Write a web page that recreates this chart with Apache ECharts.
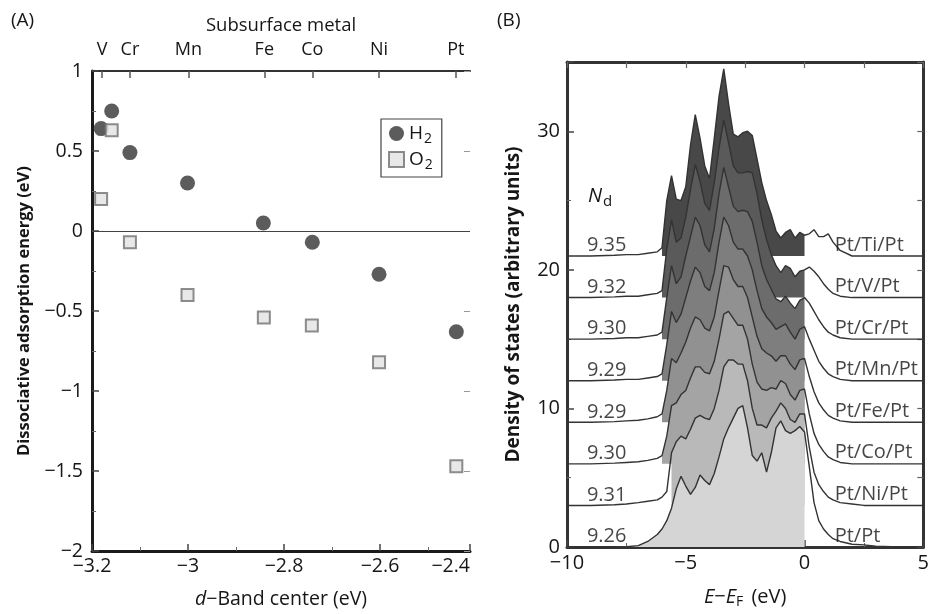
<!DOCTYPE html>
<html><head><meta charset="utf-8">
<script src="https://cdn.jsdelivr.net/npm/echarts@6/dist/echarts.min.js"></script>
<style>html,body{margin:0;padding:0;background:#fff}#c{width:932px;height:614px}</style>
</head><body><div id="c"></div>
<script>
// ---------- Panel A data ----------
const metals = ['V', 'Cr', 'Mn', 'Fe', 'Co', 'Ni', 'Pt'];
const metalBandCenter = [-3.179, -3.121, -2.999, -2.841, -2.741, -2.602, -2.442];
const h2X = [-3.181, -3.159, -3.121, -3.001, -2.843, -2.741, -2.602, -2.441];
const h2Y = [0.64, 0.75, 0.49, 0.30, 0.05, -0.07, -0.27, -0.63];
const o2X = [-3.181, -3.159, -3.121, -3.001, -2.842, -2.742, -2.602, -2.441];
const o2Y = [0.20, 0.63, -0.07, -0.40, -0.54, -0.59, -0.82, -1.47];

// ---------- Panel B data ----------
const energy = [-10,-9,-8,-7.5,-7,-6.6,-6.2,-6.0,-5.8,-5.6,-5.4,-5.2,-5.0,-4.8,-4.6,-4.4,-4.2,-4.0,-3.8,-3.6,-3.4,-3.2,-3.0,-2.8,-2.6,-2.4,-2.2,-2.0,-1.8,-1.6,-1.4,-1.2,-1.0,-0.8,-0.6,-0.4,-0.2,0,0.2,0.4,0.6,0.8,1.0,1.2,1.5,2.0,2.5,3.0,4.0,5.0];
const systems = ['Pt/Ti/Pt', 'Pt/V/Pt', 'Pt/Cr/Pt', 'Pt/Mn/Pt', 'Pt/Fe/Pt', 'Pt/Co/Pt', 'Pt/Ni/Pt', 'Pt/Pt'];
const ndValues = ['9.35', '9.32', '9.30', '9.29', '9.29', '9.30', '9.31', '9.26'];
const offsets = [21, 18, 15, 12, 9, 6, 3, 0];
const fillStart = [-6, -6, -6, -6, -6, -6, -5.6, -10];
const dosTi = [0,0,0.05,0.1,0.1,0.2,0.3,0.6,4.0,5.8,4.1,4.0,5.0,8.0,10.2,8.5,6.5,5.6,8.5,11.5,13.5,11.0,8.8,8.6,8.9,9.0,8.7,7.0,5.3,4.0,3.0,1.8,1.3,1.7,1.9,1.3,1.7,1.5,1.6,1.9,1.4,1.4,1.6,1.0,0.4,0,0,0,0,0];
const dosV  = [0,0,0.05,0.1,0.1,0.2,0.3,0.5,3.5,5.6,4.0,4.3,5.8,7.8,9.6,8.4,6.8,6.3,8.3,10.8,12.8,11.2,9.5,9.0,9.0,9.1,9.0,7.5,5.6,4.2,3.1,2.3,1.8,2.3,2.1,1.5,1.9,2.0,2.2,1.9,1.5,1.0,0.6,0.3,0.1,0,0,0,0,0];
const dosCr = [0,0,0.05,0.1,0.1,0.2,0.3,0.5,3.0,5.3,4.0,4.5,6.0,7.4,8.8,8.2,6.8,6.3,8.0,10.5,12.4,11.0,9.6,9.2,9.3,9.2,8.5,7.0,5.3,4.3,3.6,2.9,2.7,3.1,2.6,2.2,2.8,3.0,2.6,2.0,1.4,0.9,0.5,0.3,0.1,0,0,0,0,0];
const dosMn = [0,0,0.05,0.1,0.1,0.2,0.3,0.5,2.6,5.0,4.2,4.8,6.0,7.2,8.2,7.8,6.8,6.5,7.8,10.0,11.8,11.2,10.0,9.5,9.5,9.0,8.0,6.5,5.2,4.6,4.2,3.7,3.9,4.1,3.5,3.0,3.7,3.9,3.0,2.2,1.4,0.9,0.5,0.3,0.1,0,0,0,0,0];
const dosFe = [0,0,0.05,0.1,0.15,0.25,0.4,0.6,2.3,4.6,4.3,5.0,5.8,6.8,7.6,7.4,6.8,6.6,7.6,9.5,11.3,11.2,10.3,9.8,9.8,9.0,7.6,6.2,5.3,5.0,4.8,4.4,4.8,4.8,4.2,3.8,4.5,4.6,3.3,2.2,1.4,0.9,0.5,0.3,0.1,0,0,0,0,0];
const dosCo = [0,0,0.05,0.1,0.15,0.25,0.4,0.6,2.0,4.2,4.4,5.0,5.3,6.2,7.0,7.0,6.6,6.5,7.4,9.0,10.8,11.0,10.5,10.0,10.0,9.0,7.2,5.9,5.4,5.3,5.5,5.4,6.0,5.8,5.0,4.6,5.3,5.4,3.6,2.2,1.4,0.9,0.5,0.3,0.1,0,0,0,0,0];
const dosNi = [0,0,0.05,0.1,0.2,0.3,0.4,0.6,1.0,3.8,4.6,5.0,4.8,5.5,6.3,6.5,6.3,6.2,7.0,8.3,10.0,10.5,10.5,10.2,10.2,9.0,7.0,5.8,5.8,5.6,6.3,6.8,7.4,7.0,6.2,6.0,6.6,6.6,4.2,2.4,1.5,1.0,0.6,0.4,0.2,0.1,0,0,0,0];
const dosPt = [0,0,0,0.02,0.1,0.4,0.9,1.3,1.9,2.8,4.2,5.1,4.4,3.8,4.3,5.2,4.8,4.5,5.3,6.5,7.8,8.6,9.3,10.0,10.2,8.6,6.6,6.2,6.8,5.4,6.8,8.6,9.1,8.4,8.2,8.4,8.7,8.3,5.8,3.2,1.9,1.3,0.9,0.6,0.4,0.2,0.15,0.05,0,0];
const dosAll = [dosTi, dosV, dosCr, dosMn, dosFe, dosCo, dosNi, dosPt];

// ---------- build ----------
const FONT = 'Open Sans';
const INK = '#161616';
const minus = v => String(v).replace('-', '\u2212');
const fills = ['#484848', '#5a5a5a', '#6c6c6c', '#7e7e7e', '#919191', '#a4a4a4', '#b9b9b9', '#d5d5d5'];
const series = [];

series.push({
  type: 'scatter', name: 'H2', xAxisIndex: 0, yAxisIndex: 0,
  data: h2X.map((x, i) => [x, h2Y[i]]), symbol: 'circle', symbolSize: 15,
  itemStyle: { color: '#333' }, z: 4,
  markLine: { silent: true, symbol: ['none', 'none'], label: { show: false },
    lineStyle: { color: '#444', width: 1.2, type: 'solid' }, data: [{ yAxis: 0 }] }
});
series.push({
  type: 'scatter', name: 'O2', xAxisIndex: 0, yAxisIndex: 0,
  data: o2X.map((x, i) => [x, o2Y[i]]), symbol: 'rect', symbolSize: 12,
  itemStyle: { color: '#e2e2e2', borderColor: '#707070', borderWidth: 2 }, z: 5
});

dosAll.forEach((d, k) => {
  const fillData = [];
  energy.forEach((e, i) => { if (e >= fillStart[k] && e <= 0) fillData.push([e, offsets[k] + d[i]]); });
  series.push({
    type: 'line', xAxisIndex: 2, yAxisIndex: 2, data: fillData, symbol: 'none',
    lineStyle: { width: 0 }, areaStyle: { color: fills[k], opacity: 1, origin: offsets[k] },
    z: 2 + k * 0.01, silent: true, animation: false
  });
});
dosAll.forEach((d, k) => {
  series.push({
    type: 'line', xAxisIndex: 2, yAxisIndex: 2, symbol: 'none',
    data: energy.map((e, i) => [e, offsets[k] + d[i]]),
    lineStyle: { color: '#333', width: 1.4 }, z: 3, silent: true, animation: false
  });
});
series.push({
  type: 'scatter', xAxisIndex: 2, yAxisIndex: 2, symbolSize: 1, itemStyle: { color: 'transparent' },
  data: offsets.map((o, k) => ({ value: [-8.33, o + 0.75], label: { formatter: ndValues[k] } })),
  label: { show: true, position: 'inside', fontFamily: FONT, fontSize: 20, color: INK }, z: 6
});
series.push({
  type: 'scatter', xAxisIndex: 2, yAxisIndex: 2, symbolSize: 1, itemStyle: { color: 'transparent' },
  data: offsets.map((o, k) => ({ value: [1.25, o + 0.8], label: { formatter: systems[k] } })),
  label: { show: true, position: 'right', distance: 0, fontFamily: FONT, fontSize: 20, color: INK }, z: 6
});

const tickStyle = { inside: true, length: 7, lineStyle: { color: '#444', width: 1.5 } };
const minorStyle = { show: true, splitNumber: 2, length: 4, lineStyle: { color: '#666', width: 1 } };
const lblA = { fontFamily: FONT, fontSize: 19.5, color: INK };
const lblB = { fontFamily: FONT, fontSize: 20, color: INK };

const option = {
  animation: false,
  textStyle: { fontFamily: FONT },
  grid: [
    { left: 92, top: 71, width: 378, height: 483 },
    { left: 567, top: 62, width: 360, height: 488 }
  ],
  legend: {
    left: 381, top: 119, orient: 'vertical', borderColor: '#444', borderWidth: 1.2,
    padding: [5, 9, 5, 7], itemGap: 4, itemWidth: 15, itemHeight: 15,
    data: [{ name: 'H2', icon: 'circle' }, { name: 'O2', icon: 'rect' }],
    formatter: n => `{b|${n[0]}}{s|${n[1]}}`,
    textStyle: { rich: { b: { fontFamily: FONT, fontSize: 19, color: INK }, s: { fontFamily: FONT, fontSize: 14, color: INK, padding: [11, 0, 0, 1] } } }
  },
  xAxis: [
    { gridIndex: 0, type: 'value', min: -3.2, max: -2.4125, interval: 0.2, position: 'bottom',
      axisLine: { onZero: false, lineStyle: { color: '#1a1a1a', width: 3 } },
      axisTick: tickStyle, minorTick: minorStyle, splitLine: { show: false },
      axisLabel: Object.assign({}, lblA, { margin: 5, alignMaxLabel: 'right', formatter: v => minus(Math.round(v * 10) / 10) }),
      name: '{i|d}\u2212Band center (eV)', nameLocation: 'middle', nameGap: 38,
      nameTextStyle: { fontFamily: FONT, fontSize: 19.5, color: INK, rich: { i: { fontFamily: FONT, fontStyle: 'italic', fontSize: 19.5, color: INK } } } },
    { gridIndex: 0, type: 'value', min: -3.2, max: -2.4125, position: 'top',
      axisLine: { onZero: false, lineStyle: { color: '#333', width: 2 } },
      axisTick: { inside: true, length: 7, customValues: metalBandCenter, lineStyle: { color: '#555', width: 1.5 } },
      splitLine: { show: false },
      axisLabel: { fontFamily: FONT, fontSize: 18, color: INK, margin: 12, customValues: metalBandCenter,
        formatter: v => { let b = 0; metalBandCenter.forEach((m, i) => { if (Math.abs(m - v) < Math.abs(metalBandCenter[b] - v)) b = i; }); return metals[b]; } },
      name: 'Subsurface metal', nameLocation: 'middle', nameGap: 36,
      nameTextStyle: { fontFamily: FONT, fontSize: 18.5, color: INK } },
    { gridIndex: 1, type: 'value', min: -10, max: 5, interval: 5, position: 'bottom',
      axisLine: { onZero: false, lineStyle: { color: '#333', width: 3 } },
      axisTick: tickStyle, minorTick: minorStyle, splitLine: { show: false },
      axisLabel: Object.assign({}, lblB, { margin: 6, formatter: v => minus(v) }),
      name: '{i|E}\u2212{i|E}{s|F} (eV)', nameLocation: 'middle', nameGap: 38,
      nameTextStyle: { fontFamily: FONT, fontSize: 20, color: INK,
        rich: { i: { fontFamily: FONT, fontStyle: 'italic', fontSize: 20, color: INK },
                s: { fontFamily: FONT, fontSize: 14, color: INK, padding: [10, 3, 0, 0] } } } },
    { gridIndex: 1, type: 'value', min: -10, max: 5, interval: 2.5, position: 'top',
      axisLine: { onZero: false, lineStyle: { color: '#333', width: 3 } },
      axisTick: { inside: true, length: 6, lineStyle: { color: '#666', width: 1.2 } },
      axisLabel: { show: false }, splitLine: { show: false } }
  ],
  yAxis: [
    { gridIndex: 0, type: 'value', min: -2, max: 1, interval: 0.5,
      axisLine: { onZero: false, lineStyle: { color: '#1a1a1a', width: 3 } },
      axisTick: tickStyle, minorTick: minorStyle, splitLine: { show: false },
      axisLabel: Object.assign({}, lblA, { margin: 9, formatter: v => minus(v) }),
      name: 'Dissociative adsorption energy (eV)', nameLocation: 'middle', nameGap: 59,
      nameTextStyle: { fontFamily: FONT, fontSize: 16.5, fontWeight: 'bold', color: INK } },
    { gridIndex: 0, type: 'value', min: -2, max: 1, interval: 0.5, position: 'right',
      axisLine: { show: false }, axisTick: { inside: true, length: 6, lineStyle: { color: '#999' } },
      axisLabel: { show: false }, splitLine: { show: false } },
    { gridIndex: 1, type: 'value', min: 0, max: 35, interval: 10,
      axisLine: { onZero: false, lineStyle: { color: '#333', width: 3 } },
      axisTick: tickStyle, minorTick: minorStyle, splitLine: { show: false },
      axisLabel: Object.assign({}, lblB, { margin: 7, showMaxLabel: false }),
      name: 'Density of states (arbitrary units)', nameLocation: 'middle', nameGap: 44,
      nameTextStyle: { fontFamily: FONT, fontSize: 19, fontWeight: 'bold', color: INK } },
    { gridIndex: 1, type: 'value', min: 0, max: 35, interval: 5, position: 'right',
      axisLine: { onZero: false, lineStyle: { color: '#333', width: 3 } },
      axisTick: { inside: true, length: 6, lineStyle: { color: '#666', width: 1.2 } },
      axisLabel: { show: false }, splitLine: { show: false } }
  ],
  graphic: [
    { type: 'text', left: 11, top: 11, style: { text: '(A)', fontFamily: FONT, fontSize: 19, fill: INK } },
    { type: 'text', left: 497, top: 11, style: { text: '(B)', fontFamily: FONT, fontSize: 19, fill: INK } },
    { type: 'text', left: 588, top: 186, style: { text: '{i|N}{s|d}', rich: {
        i: { fontFamily: FONT, fontStyle: 'italic', fontSize: 20, fill: INK, color: INK },
        s: { fontFamily: FONT, fontSize: 15, fill: INK, color: INK, padding: [11, 0, 0, 1] } } } }
  ],
  series: series
};
const chart = echarts.init(document.getElementById('c'), null, { renderer: 'canvas' });
chart.setOption(option);
</script></body></html>
